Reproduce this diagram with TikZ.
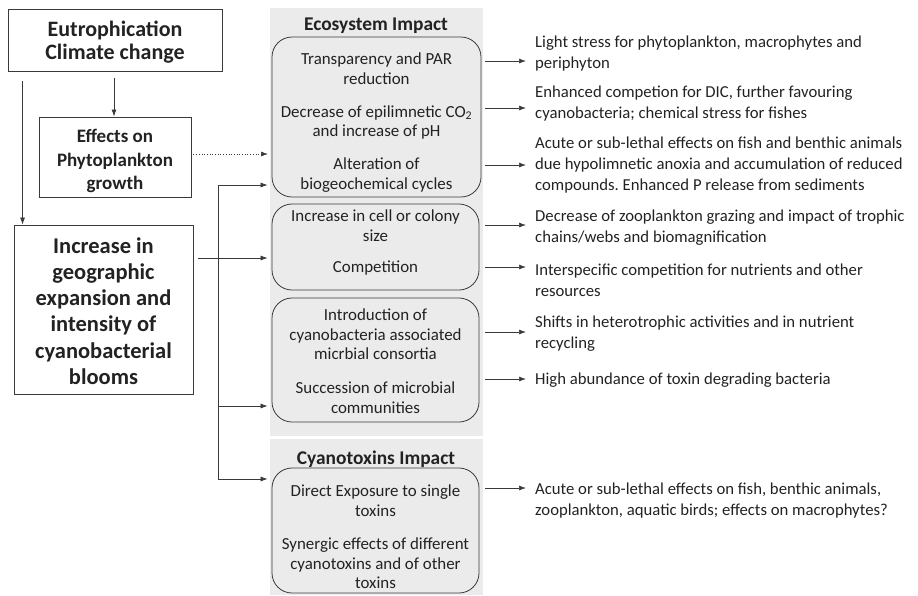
\documentclass[tikz,border=0pt]{standalone}
\usepackage{fontspec}
\setmainfont{Carlito}
\usetikzlibrary{arrows.meta}
\definecolor{panel}{HTML}{EBEBEB}
\definecolor{linec}{HTML}{3A3A3A}
\definecolor{txt}{HTML}{222222}
\newcommand{\bodyfont}{\fontsize{16.9}{19.8}\selectfont}
\newcommand{\rightfont}{\fontsize{16.7}{21}\selectfont}
\frenchspacing
\begin{document}
\begin{tikzpicture}[x=1pt,y=-1pt,
  sqbox/.style={draw=linec, line width=0.9pt, fill=white, inner sep=0pt},
  boxtext/.style={align=center, inner sep=0pt, text=txt},
  rbox/.style={draw=linec, line width=0.8pt, rounded corners=20pt, fill=panel, inner sep=0pt},
  rbtext/.style={align=center, inner sep=0pt, text=txt, font=\bodyfont},
  ttl/.style={font=\fontsize{19.4}{22}\selectfont\bfseries, text=txt, inner sep=0pt},
  rtext/.style={anchor=west, align=left, inner sep=0pt, text=txt, font=\rightfont},
  arr/.style={-{Latex[length=7pt,width=5pt]}, line width=0.7pt, draw=linec},
  dotarr/.style={arr, dotted}
]
\useasboundingbox (0,0) rectangle (918,595);
% panels
\fill[panel] (270,8) rectangle (483,436);
\fill[panel] (270,439) rectangle (483,595);
\node[ttl] (ecot) at (376,26) {Ecosystem Impact};
\node[ttl] (cyat) at (376,459) {Cyanotoxins Impact};

% left boxes
\node[sqbox, minimum width=214pt, minimum height=62pt] (eut) at (115,40) {};
\node[boxtext, font=\fontsize{22}{23}\selectfont\bfseries] (eutt) at (115,42.5) {Eutrophication\\Climate change};
\node[sqbox, minimum width=152pt, minimum height=80pt] (eff) at (115,157) {};
\node[boxtext, font=\fontsize{19}{23.5}\selectfont\bfseries] (efft) at (115,161) {Effects on\\Phytoplankton\\growth};
\node[sqbox, minimum width=179pt, minimum height=169pt] (big) at (103.5,309.5) {};
\node[boxtext, font=\fontsize{22.5}{26.2}\selectfont\bfseries] (bigt) at (103.5,311) {Increase in\\geographic\\expansion and\\intensity of\\cyanobacterial\\blooms};

% rounded boxes
\node[rbox, minimum width=209pt, minimum height=160pt] (rb1) at (376.5,117) {};
\node[rbtext] (rb1t) at (376.5,122.5) {Transparency and PAR\\reduction\\[13pt]Decrease of epilimnetic CO\textsubscript{2}\\and increase of pH\\[13pt]Alteration of\\biogeochemical cycles};
\node[rbox, minimum width=207pt, minimum height=86pt] (rb2) at (375.5,247) {};
\node[rbtext] (rb2t) at (375.5,242.5) {Increase in cell or colony\\size\\[11pt]Competition};
\node[rbox, minimum width=207pt, minimum height=124pt] (rb3) at (375.5,360) {};
\node[rbtext] (rb3t) at (375.5,361) {Introduction of\\cyanobacteria associated\\micrbial consortia\\[14pt]Succession of microbial\\communities};
\node[rbox, minimum width=207pt, minimum height=125pt] (rb4) at (375.5,530.5) {};
\node[rbtext] (rb4t) at (375.5,537) {Direct Exposure to single\\toxins\\[13pt]Synergic effects of different\\cyanotoxins and of other\\toxins};

% right texts
\node[rtext] (t1) at (535,53.5) {Light stress for phytoplankton, macrophytes and\\periphyton};
\node[rtext] (t2) at (535,104) {Enhanced competion for DIC, further favouring\\cyanobacteria; chemical stress for fishes};
\node[rtext] (t3) at (535,165.5) {Acute or sub-lethal effects on fish and benthic animals\\due hypolimnetic anoxia and accumulation of reduced\\compounds. Enhanced P release from sediments};
\node[rtext] (t4) at (535,228) {Decrease of zooplankton grazing and impact of trophic\\chains/webs and biomagnification};
\node[rtext] (t5) at (535,280.5) {Interspecific competition for nutrients and other\\resources};
\node[rtext] (t6) at (535,333.5) {Shifts in heterotrophic activities and in nutrient\\recycling};
\node[rtext] (t7) at (535,380.5) {High abundance of toxin degrading bacteria};
\node[rtext] (t8) at (535,501) {Acute or sub-lethal effects on fish, benthic animals,\\zooplankton, aquatic birds; effects on macrophytes?};

% arrow tip coordinates
\coordinate (a1) at (526,61);
\coordinate (a2) at (526,108);
\coordinate (a3) at (526,165);
\coordinate (a4) at (526,225);
\coordinate (a5) at (526,267);
\coordinate (a6) at (526,332);
\coordinate (a7) at (526,379);
\coordinate (a8) at (526,488);
\draw[arr, shorten <=4pt] (rb1.east |- a1) -- (a1);
\draw[arr, shorten <=4pt] (rb1.east |- a2) -- (a2);
\draw[arr, shorten <=4pt] (rb1.east |- a3) -- (a3);
\draw[arr, shorten <=6pt] (rb2.east |- a4) -- (a4);
\draw[arr, shorten <=6pt] (rb2.east |- a5) -- (a5);
\draw[arr, shorten <=6pt] (rb3.east |- a6) -- (a6);
\draw[arr, shorten <=6pt] (rb3.east |- a7) -- (a7);
\draw[arr, shorten <=6pt] (rb4.east |- a8) -- (a8);

% left connectors
\draw[arr, shorten <=7pt] ([xshift=-1pt]eut.south) -- ([xshift=-1pt]eff.north);
\draw[arr, shorten <=10pt] ([xshift=15pt]eut.south west) -- ([xshift=9pt]big.north west);
\coordinate (d1) at (268,154);
\draw[dotarr, shorten <=2pt] (eff.east |- d1) -- (d1);
\coordinate (jn) at (218,258);
\coordinate (jtop) at (218,185);
\coordinate (j3) at (218,406);
\coordinate (jbot) at (218,479);
\draw[arr, shorten <=5pt] (big.east |- jn) -- ([xshift=-4pt]rb2.west |- jn);
\draw[line width=0.7pt, draw=linec] (jtop) -- (jbot);
\draw[arr] (jtop) -- ([xshift=-4pt]rb1.west |- jtop);
\draw[arr] (j3) -- ([xshift=-4pt]rb3.west |- j3);
\draw[arr] (jbot) -- ([xshift=-4pt]rb4.west |- jbot);
\end{tikzpicture}
\end{document}
